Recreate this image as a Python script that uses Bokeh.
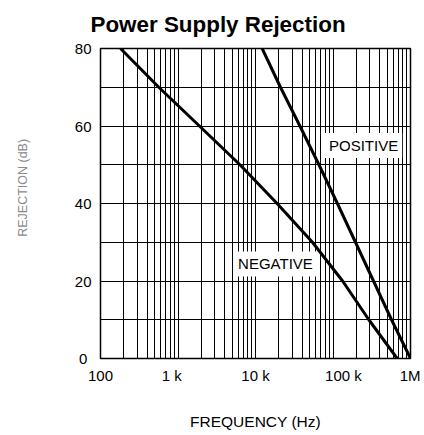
from bokeh.plotting import figure
from bokeh.models import FixedTicker, Label, Range1d
from bokeh.embed import file_html
from bokeh.resources import INLINE

# ---- data ----
pos_freq = [12200, 21000, 37400, 65900, 114000, 195000, 333000, 569000, 1000000]
pos_db = [80, 70, 60, 50, 40, 30, 20, 10, 0]
neg_freq = [181, 565, 1890, 6300, 19000, 54300, 133000, 290000, 673000]
neg_db = [80, 70, 60, 50, 40, 30, 20, 10, 0]

x_ticks = [100, 1000, 10000, 100000, 1000000]
x_tick_labels = ["100", "1 k\u00a0\u00a0\u00a0", "10 k", "\u00a0\u00a0\u00a0\u00a0\u00a0100 k", "1M"]
y_ticks = [0, 20, 40, 60, 80]
y_tick_labels = ["0\u00a0", "20", "40", "60", "80"]
y_minor = [10, 30, 50, 70]

FONT = "Liberation Sans"

p = figure(frame_width=310, frame_height=310, x_axis_type="log",
           x_range=Range1d(100, 1e6), y_range=Range1d(0, 80),
           output_backend="svg", toolbar_location=None,
           min_border_left=100, min_border_right=10, min_border_top=48, min_border_bottom=60)

p.title.text = "Power Supply Rejection"
p.title.text_font = FONT
p.title.text_font_size = "22.4px"
p.title.text_font_style = "bold"
p.title.align = "left"
p.title.vertical_align = "top"
p.title.offset = -10
p.title.standoff = 20
p.title.text_color = "black"

minor_x = [m * d for d in [100, 1000, 10000, 100000] for m in range(2, 10)]
p.xaxis.ticker = FixedTicker(ticks=x_ticks, minor_ticks=minor_x)
p.yaxis.ticker = FixedTicker(ticks=y_ticks, minor_ticks=y_minor)
p.xaxis.major_label_overrides = {t: l for t, l in zip(x_ticks, x_tick_labels)}
p.yaxis.major_label_overrides = {t: l for t, l in zip(y_ticks, y_tick_labels)}

for ax in (p.xaxis, p.yaxis):
    ax.axis_line_color = None
    ax.major_tick_line_color = None
    ax.minor_tick_line_color = None
    ax.major_tick_out = 0
    ax.minor_tick_out = 0
    ax.major_label_text_font = FONT
    ax.major_label_text_font_size = "15px"
    ax.major_label_text_color = "black"
    ax.axis_label_text_font_style = "normal"
    ax.axis_label_text_color = "black"

p.xaxis.major_label_standoff = 8
p.yaxis.major_label_standoff = 9
p.xaxis.axis_label = "FREQUENCY (Hz)"
p.xaxis.axis_label_text_font = FONT
p.xaxis.axis_label_text_font_size = "15.5px"
p.xaxis.axis_label_standoff = 26
p.yaxis.axis_label = "\u00a0" * 9 + "REJECTION (dB)"
p.yaxis.axis_label_text_font = FONT
p.yaxis.axis_label_text_font_size = "12.5px"
p.yaxis.axis_label_text_color = "#8a8a8a"
p.yaxis.axis_label_standoff = 42

for g in (p.xgrid, p.ygrid):
    g.grid_line_color = "black"
    g.grid_line_alpha = 1
    g.grid_line_width = 1
    g.minor_grid_line_color = "black"
    g.minor_grid_line_width = 1

p.outline_line_color = "black"
p.outline_line_width = 1.5
p.background_fill_color = "white"

p.line(pos_freq, pos_db, line_color="black", line_width=3)
p.line(neg_freq, neg_db, line_color="black", line_width=3)

for txt, fx, fy in [("POSITIVE", 248000, 55), ("NEGATIVE", 18100, 24.4)]:
    p.add_layout(Label(x=fx, y=fy, text=txt, text_align="center", text_baseline="middle",
                       text_font=FONT, text_font_size="15px", text_color="black",
                       background_fill_color="white", padding=4))

open("out.html", "w").write(file_html(p, INLINE))
